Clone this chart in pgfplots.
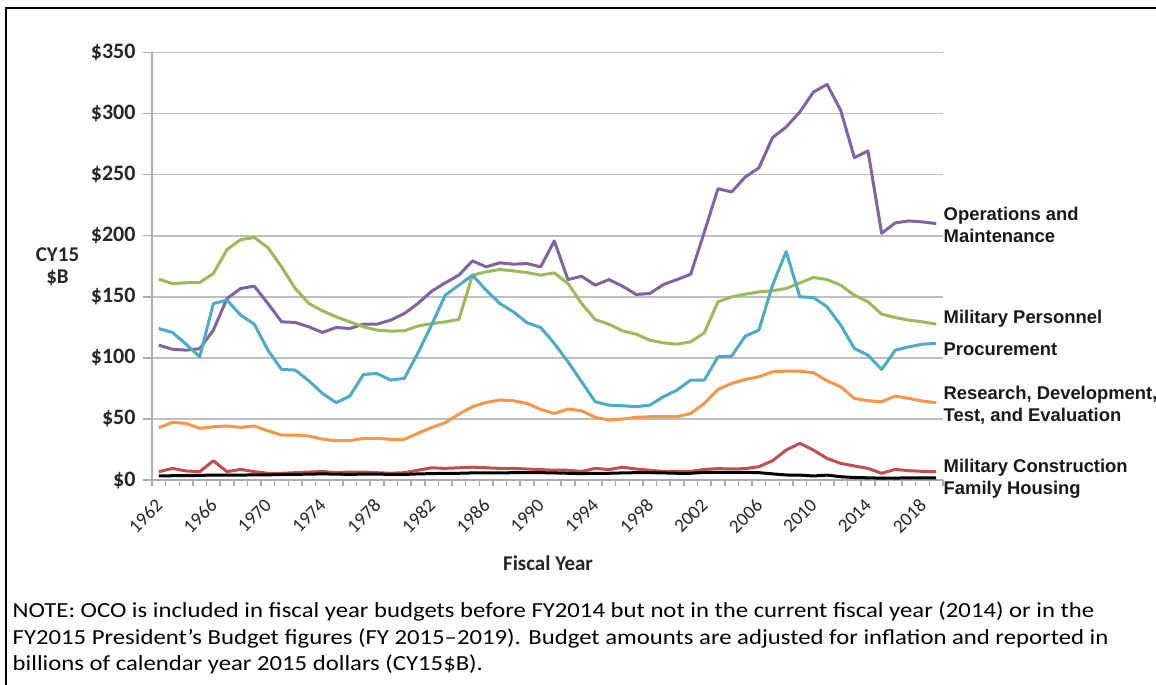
\documentclass[border=0pt]{standalone}
\usepackage{fontspec}
\setmainfont{Carlito}
\newfontfamily\arialfont{Liberation Sans}
\usepackage{graphicx}
\usepackage{pgfplots}
\usepackage{pgfplotstable}
\pgfplotsset{compat=1.18}
\definecolor{cOM}{HTML}{8064A2}
\definecolor{cMP}{HTML}{9BBB59}
\definecolor{cPR}{HTML}{4BACC6}
\definecolor{cRD}{HTML}{F79646}
\definecolor{cMC}{HTML}{C0504D}
\definecolor{cFH}{HTML}{000000}
\definecolor{gridc}{HTML}{BFBFBF}
\pgfplotstableread{
year om mp proc rdte milcon fh
1962 110.4 164.4 124.0 42.8 6.8 3.3
1963 107.0 160.8 120.8 47.2 9.5 3.5
1964 106.3 161.5 111.2 46.3 7.4 3.5
1965 107.5 161.7 100.9 42.3 6.8 3.8
1966 122.7 169.0 144.5 43.6 15.8 4.0
1967 148.6 188.7 147.2 44.2 6.8 4.0
1968 156.8 196.8 135.0 43.1 8.7 4.0
1969 158.7 198.5 127.6 44.2 6.8 4.2
1970 144.5 190.3 106.3 40.3 5.5 4.2
1971 129.5 174.5 90.5 36.8 5.5 4.5
1972 129.0 156.8 90.0 36.8 6.0 4.6
1973 125.4 144.5 81.2 36.0 6.5 4.8
1974 120.8 138.5 70.9 33.5 7.0 5.0
1975 124.9 133.6 63.3 32.2 6.0 4.8
1976 124.0 129.5 68.7 32.2 6.5 4.6
1977 127.6 125.4 86.4 34.1 6.5 4.8
1978 127.6 122.7 87.2 34.1 6.0 4.8
1979 130.9 121.9 81.8 33.3 5.5 4.6
1980 136.3 122.1 83.2 33.3 6.0 4.5
1981 144.5 126.0 104.0 38.2 8.0 5.0
1982 154.5 128.1 127.0 43.0 10.0 5.2
1983 161.4 129.5 151.3 46.9 9.5 5.5
1984 167.7 131.4 159.5 54.0 10.0 5.5
1985 179.4 167.7 167.7 60.0 10.5 5.8
1986 174.5 170.4 155.4 63.5 10.0 5.8
1987 177.8 172.3 144.5 65.4 9.5 5.8
1988 176.7 171.2 137.7 64.9 9.5 6.0
1989 177.2 169.8 128.7 62.7 9.0 6.0
1990 174.5 167.7 124.9 57.8 8.5 6.0
1991 195.7 169.6 111.8 54.5 8.0 5.8
1992 164.1 160.9 96.8 58.1 8.0 5.5
1993 166.8 144.5 80.4 56.7 7.0 5.2
1994 159.5 131.4 64.1 51.3 9.5 5.5
1995 164.1 127.6 61.3 49.1 8.5 5.5
1996 158.7 122.1 60.8 49.9 10.5 5.8
1997 151.9 119.4 60.0 51.3 9.0 6.0
1998 152.7 114.5 61.3 51.8 8.0 6.0
1999 160.0 112.3 68.2 51.8 7.0 5.8
2000 164.1 111.2 73.6 51.8 7.0 5.5
2001 168.5 113.1 81.8 54.5 7.0 5.5
2002 203.0 120.5 81.8 62.7 8.7 6.3
2003 238.5 145.9 100.9 74.2 9.3 6.3
2004 235.8 149.9 101.4 79.1 9.0 6.3
2005 248.1 152.1 117.8 82.3 9.3 6.3
2006 255.5 154.0 122.7 84.5 10.9 6.0
2007 280.3 154.9 159.5 88.6 15.8 5.0
2008 289.0 156.8 187.0 89.1 24.5 4.1
2009 301.3 161.4 150.0 89.1 30.0 4.0
2010 317.6 165.8 149.4 87.8 24.5 3.3
2011 323.9 164.1 141.8 81.2 17.7 4.0
2012 302.6 159.5 126.8 76.3 13.6 2.7
2013 263.9 151.3 107.7 66.8 11.5 2.0
2014 269.4 145.9 102.2 64.9 9.5 1.8
2015 202.0 135.8 90.5 64.1 5.5 1.5
2016 210.5 133.0 106.3 68.7 8.7 1.6
2017 212.1 130.9 109.0 66.8 7.6 1.7
2018 211.3 129.5 111.2 64.6 7.1 1.7
2019 209.9 127.6 111.8 63.3 6.8 1.7
}\datatable
\begin{document}
\begin{tikzpicture}
\useasboundingbox (0pt,0pt) rectangle (1156pt,685pt);
\fill[white] (0pt,0pt) rectangle (1156pt,685pt);
\draw[black, line width=2.5pt] (6.2pt,0pt) -- (6.2pt,677.2pt) -- (1156pt,677.2pt);
\begin{axis}[
  at={(152pt,205pt)}, anchor=south west,
  scale only axis, width=791pt, height=427.5pt,
  xmin=1961.5, xmax=2019.5, ymin=0, ymax=350,
  axis lines*=left,
  axis line style={gridc!90!black, line width=1.5pt},
  xtick={1962,1966,...,2018},
  minor xtick={1961.5,1962.5,...,2019.5},
  ytick={0,50,...,350},
  yticklabels={\$0,\$50,\$100,\$150,\$200,\$250,\$300,\$350},
  major tick length=9pt, minor tick length=6pt, tick align=outside,
  every major x tick/.append style={draw=none},
  every tick/.append style={gridc!90!black, line width=1.5pt},
  ymajorgrids,
  grid style={gridc, line width=1.6pt},
  xticklabel style={rotate=45, anchor=north east, xshift=-8pt, yshift=-2pt, font=\fontsize{19}{19}\selectfont, text=black!85, inner sep=1pt},
  yticklabel style={font=\bfseries\fontsize{22}{22}\selectfont, text=black!85, xshift=-4pt},
  /pgf/number format/assume math mode=true,
  /pgf/number format/1000 sep={},
  every axis plot/.append style={line width=3pt, line join=round, mark=none},
]
\addplot[cOM] table[x=year, y=om] {\datatable};
\addplot[cMP] table[x=year, y=mp] {\datatable};
\addplot[cPR] table[x=year, y=proc] {\datatable};
\addplot[cRD] table[x=year, y=rdte] {\datatable};
\addplot[cMC] table[x=year, y=milcon] {\datatable};
\addplot[cFH] table[x=year, y=fh] {\datatable};
\end{axis}
\begin{scope}[every node/.style={anchor=base west, inner sep=0pt, text=black!90, font=\arialfont\bfseries\fontsize{18.4}{21}\selectfont}]
\node at (943.5pt,464pt) {Operations and};
\node at (943.5pt,442pt) {Maintenance};
\node at (943.5pt,361pt) {Military Personnel};
\node at (943.5pt,329.5pt) {Procurement};
\node at (943.5pt,285.5pt) {Research, Development,};
\node at (943.5pt,263.5pt) {Test, and Evaluation};
\node at (943.5pt,212.5pt) {Military Construction};
\node at (943.5pt,190pt) {Family Housing};
\end{scope}
\node[anchor=base, inner sep=0pt, font=\bfseries\fontsize{21}{21}\selectfont, text=black!85] at (57.5pt,423.5pt) {CY15};
\node[anchor=base, inner sep=0pt, font=\bfseries\fontsize{21}{21}\selectfont, text=black!85] at (57.5pt,401pt) {\$B};
\node[anchor=center, inner sep=0pt, font=\bfseries\fontsize{21}{21}\selectfont, text=black!85] at (548pt,122pt) {Fiscal Year};
\begin{scope}[every node/.style={anchor=base west, inner sep=0pt, font=\fontsize{21.5}{21.5}\selectfont, text=black}]
\node at (12.5pt,67pt) {\scalebox{1.15}[1]{NOTE: OCO is included in fiscal year budgets before FY2014 but not in the current fiscal year (2014) or in the}};
\node at (12.5pt,40.5pt) {\scalebox{1.15}[1]{FY2015 President’s Budget figures (FY 2015–2019). Budget amounts are adjusted for inflation and reported in}};
\node at (12.5pt,14pt) {\scalebox{1.15}[1]{billions of calendar year 2015 dollars (CY15\$B).}};
\end{scope}
\end{tikzpicture}
\end{document}
